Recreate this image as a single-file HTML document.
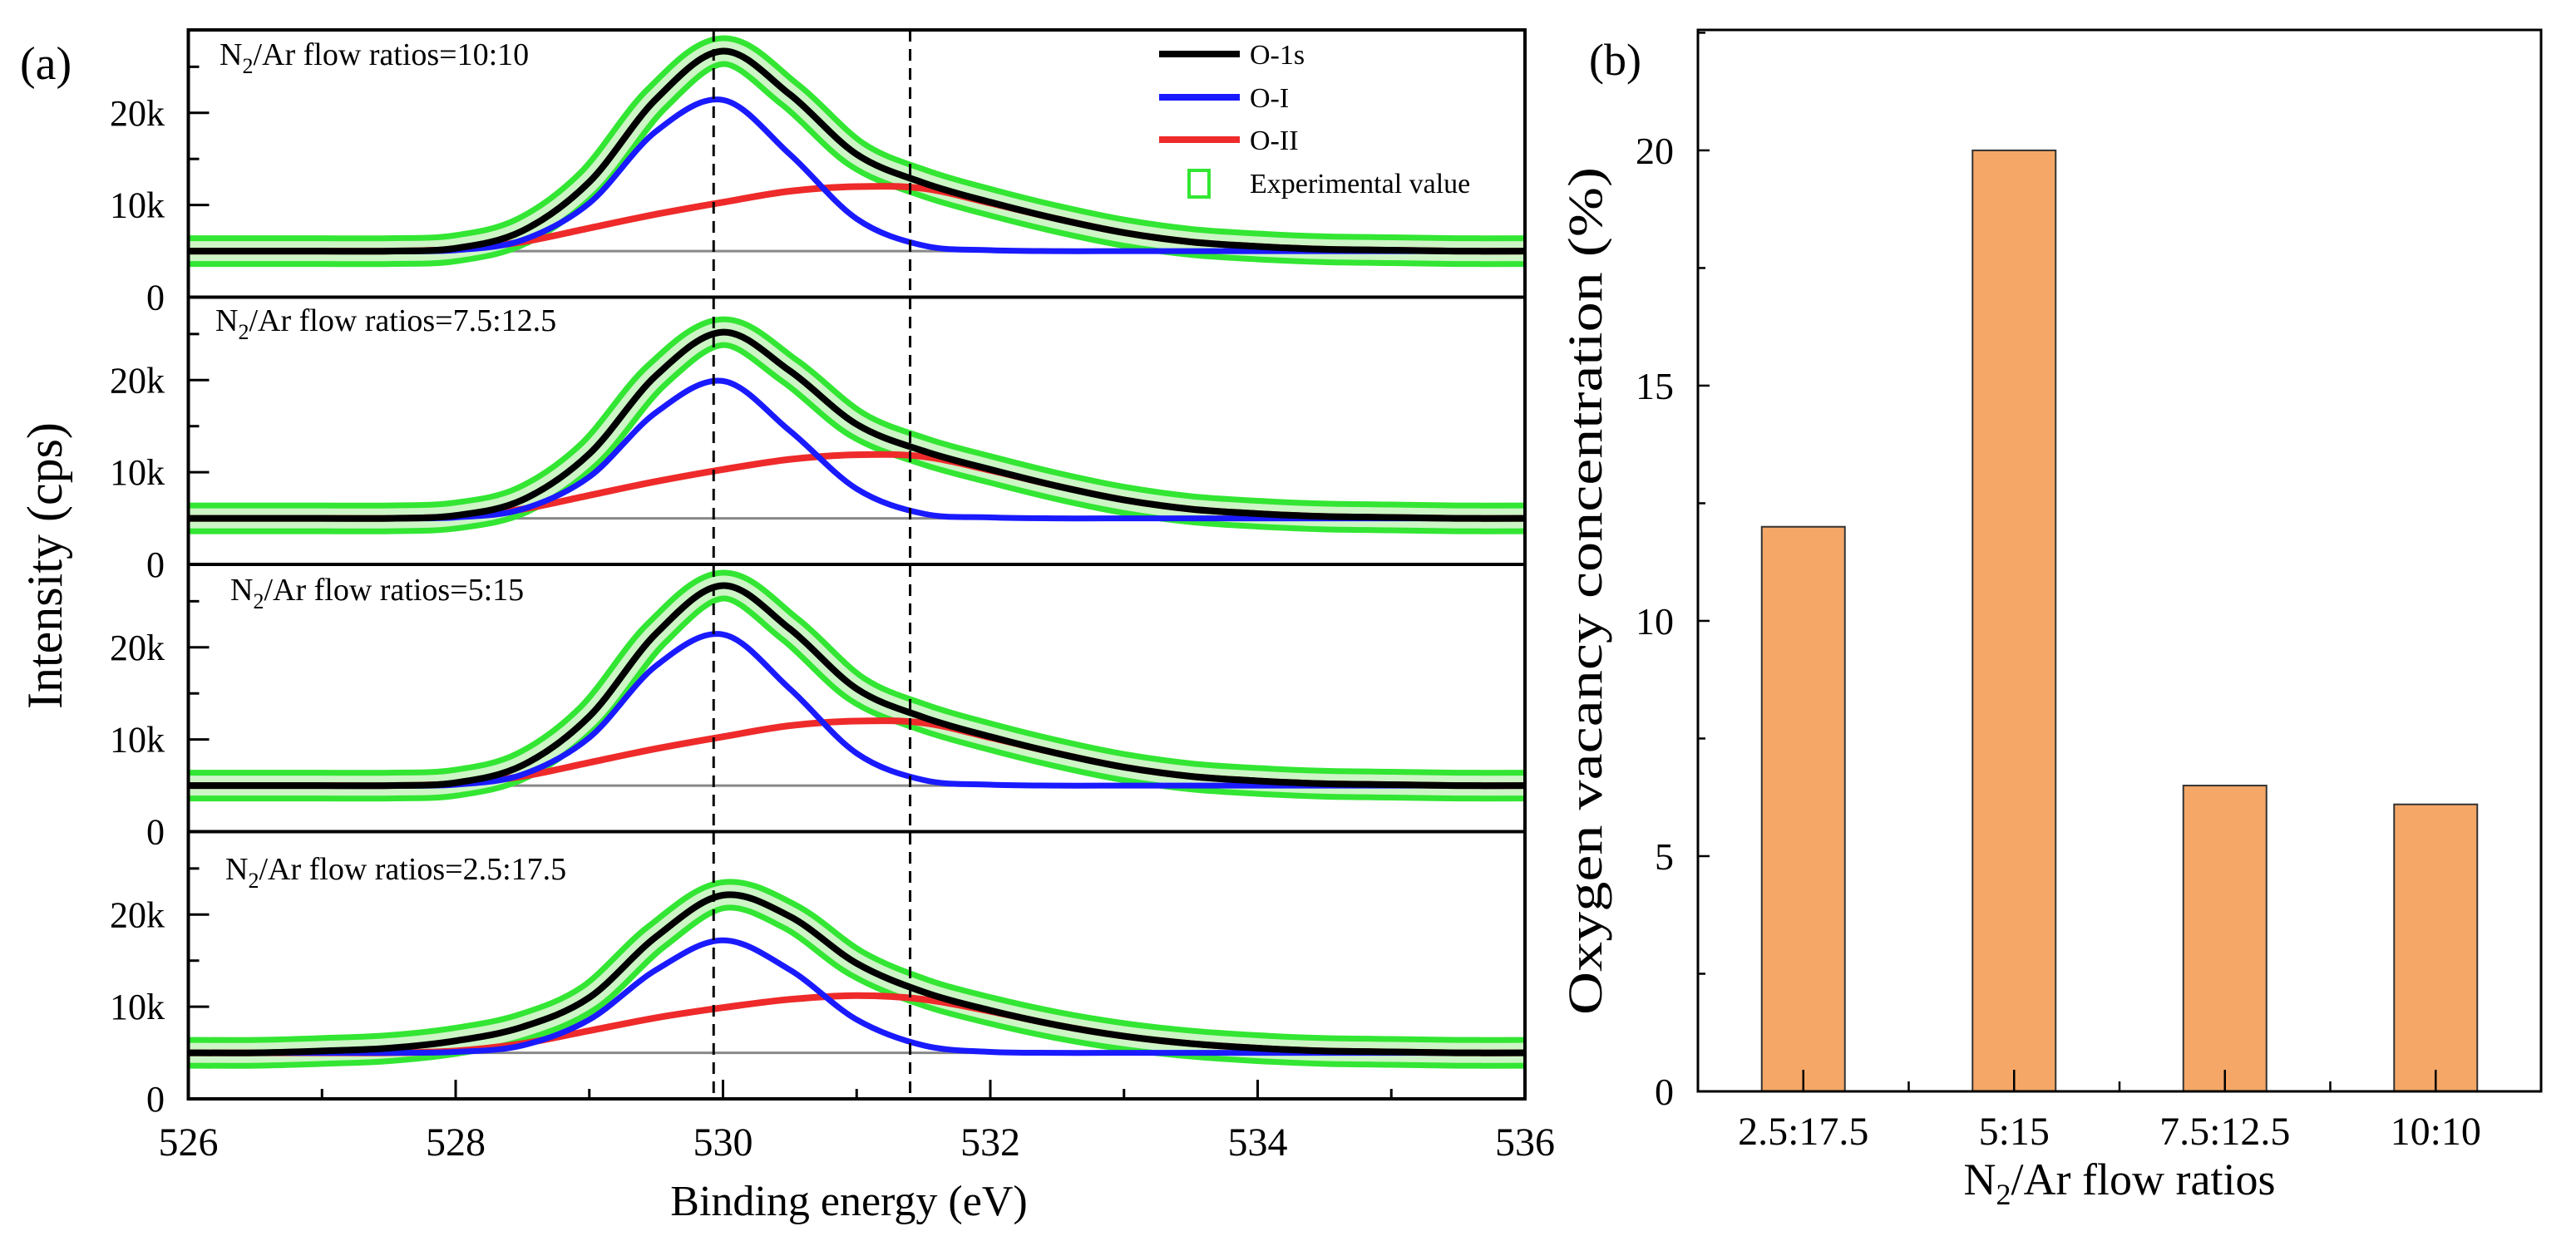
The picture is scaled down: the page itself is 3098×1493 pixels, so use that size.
<!DOCTYPE html>
<html><head><meta charset="utf-8"><style>
html,body{margin:0;padding:0;background:#fff;}
svg{display:block;font-family:"Liberation Serif",serif;}
</style></head><body>
<svg id="fig" width="3098" height="1493" viewBox="0 0 3098 1493" xmlns="http://www.w3.org/2000/svg">
<rect x="0" y="0" width="3098" height="1493" fill="#fff"/>
<g id="pa"></g>
<g id="pb"></g>
</svg>
<script>
// ---------- Panel (a) data ----------
const energies = [526,526.5,527,527.5,528,528.5,529,529.5,530,530.5,531,531.5,532,532.5,533,533.5,534,534.5,535,535.5,536];
const panelLabels = ["10:10","7.5:12.5","5:15","2.5:17.5"];
const o1sValues = [
 [5,5,5,5,5.3,7.2,12.5,21.5,26.7,22,15.5,12.4,10.3,8.5,7,6,5.5,5.2,5.1,5,5],
 [5,5,5,5,5.3,7,12,20.5,25.2,21,15.2,12.3,10.3,8.5,7,6,5.5,5.2,5.1,5,5],
 [5,5,5,5,5.3,7.2,12.5,21.5,26.7,22,15.5,12.4,10.3,8.5,7,6,5.5,5.2,5.1,5,5],
 [5,5,5.2,5.5,6.3,7.8,11,17.6,22.1,19.8,14.7,11.6,9.6,8,6.8,6,5.5,5.2,5.1,5,5]
];
const oIValues = [
 [5,5,5,5,5.1,6.2,10.2,18,21.4,15.5,8.5,5.6,5.1,5,5,5,5,5,5,5,5],
 [5,5,5,5,5.1,6,9.5,16.5,19.9,14.5,8.2,5.5,5.1,5,5,5,5,5,5,5,5],
 [5,5,5,5,5.1,6.2,10.2,18,21.4,15.5,8.5,5.6,5.1,5,5,5,5,5,5,5,5],
 [5,5,5,5,5.1,5.8,8.6,14,17.2,14,8.6,5.8,5.1,5,5,5,5,5,5,5,5]
];
const oIIValues = [
 [5,5,5,5,5.2,6,7.5,9,10.3,11.5,12,11.8,10.2,8.5,7,6,5.5,5.2,5.1,5,5],
 [5,5,5,5,5.2,6,7.5,9,10.3,11.4,11.9,11.7,10.2,8.5,7,6,5.5,5.2,5.1,5,5],
 [5,5,5,5,5.2,6,7.5,9,10.3,11.5,12,11.8,10.2,8.5,7,6,5.5,5.2,5.1,5,5],
 [5,5,5,5,5.2,6,7.4,8.8,9.9,10.8,11.2,10.8,9.5,8,6.8,6,5.5,5.2,5.1,5,5]
];
const baselineValues = [5,5,5,5];
const dashedEnergies = [529.93,531.4];
const xTickValues = [526,528,530,532,534,536];
const yTickValues = [0,10,20];

// ---------- Panel (b) data ----------
const barCategories = ["2.5:17.5","5:15","7.5:12.5","10:10"];
const barValues = [12,20,6.5,6.1];
const barYTicks = [0,5,10,15,20];

const NS="http://www.w3.org/2000/svg";
function mk(tag,attrs,parent){const e=document.createElementNS(NS,tag);for(const k in attrs)e.setAttribute(k,attrs[k]);parent.appendChild(e);return e;}
function smooth(pts){
  let d="M"+pts[0][0].toFixed(1)+","+pts[0][1].toFixed(1);
  for(let i=0;i<pts.length-1;i++){
    const p0=pts[Math.max(0,i-1)],p1=pts[i],p2=pts[i+1],p3=pts[Math.min(pts.length-1,i+2)];
    const c1=[p1[0]+(p2[0]-p0[0])/6,p1[1]+(p2[1]-p0[1])/6];
    const c2=[p2[0]-(p3[0]-p1[0])/6,p2[1]-(p3[1]-p1[1])/6];
    d+=" C"+c1[0].toFixed(1)+","+c1[1].toFixed(1)+" "+c2[0].toFixed(1)+","+c2[1].toFixed(1)+" "+p2[0].toFixed(1)+","+p2[1].toFixed(1);
  }
  return d;
}

// ---------- Panel (a) ----------
const pa=document.getElementById('pa');
const AX0=226.5, AX1=1834, PTOP=36, PH=321.5, YMAX=29;
const xA=v=>AX0+(v-526)*(AX1-AX0)/10;
for(let p=0;p<4;p++){
  const top=PTOP+p*PH, bot=top+PH;
  const yA=v=>bot-v*(PH/YMAX);
  const g=mk('g',{},pa);
  
  
  // baseline
  const bl=mk('line',{x1:xA(526),x2:xA(536),y1:yA(baselineValues[p]),y2:yA(baselineValues[p]),stroke:'#888',"stroke-width":3},g);
  
  
  const o1=energies.map((e,i)=>[xA(e),yA(o1sValues[p][i])]);
  // experimental band
  const ex1=mk('path',{d:smooth(o1),fill:'none',stroke:'#33e633',"stroke-width":38,"stroke-linejoin":'round'},g);
  
  
  const ex2=mk('path',{d:smooth(o1),fill:'none',stroke:'#cdf5c6',"stroke-width":24,"stroke-linejoin":'round'},g);
  
  
  const rII=mk('path',{d:smooth(energies.map((e,i)=>[xA(e),yA(oIIValues[p][i])])),fill:'none',stroke:'#ee2a2a',"stroke-width":8},g);
  
  
  const rI=mk('path',{d:smooth(energies.map((e,i)=>[xA(e),yA(oIValues[p][i])])),fill:'none',stroke:'#1a1aff',"stroke-width":7},g);
  
  
  const r1=mk('path',{d:smooth(o1),fill:'none',stroke:'#000',"stroke-width":8},g);
  
  
  // y ticks
  for(let v=0;v<YMAX;v+=5){
    const major=yTickValues.includes(v);
    const t=mk('line',{x1:AX0,x2:AX0+(major?25:13),y1:yA(v),y2:yA(v),stroke:'#000',"stroke-width":3},g);
    
    
  }
  yTickValues.forEach(v=>{
    const t=mk('text',{x:198,y:yA(v)+15,"text-anchor":'end',"font-size":44},g);
    t.textContent=v===0?'0':v+'k';
    
    
  });
  // panel label
  const lx=[264,259,277,271][p], ly=[78,398,722,1058][p];
  const lb=mk('text',{x:lx,y:ly,"font-size":38},g);
  lb.innerHTML='N<tspan font-size="26" dy="10">2</tspan><tspan dy="-10">/Ar flow ratios='+panelLabels[p]+'</tspan>';
  
  
  // frame
  const fr=mk('rect',{x:AX0,y:top,width:AX1-AX0,height:PH,fill:'none',stroke:'#000',"stroke-width":4},g);
  
  
}
// dashed lines
dashedEnergies.forEach(e=>{
  const l=mk('line',{x1:xA(e),x2:xA(e),y1:PTOP,y2:PTOP+4*PH,stroke:'#000',"stroke-width":3,"stroke-dasharray":'14,9'},pa);
  
  
});
// x ticks
const ABOT=PTOP+4*PH;
for(let v=526;v<=536;v++){
  const major=xTickValues.includes(v);
  const t=mk('line',{x1:xA(v),x2:xA(v),y1:ABOT,y2:ABOT-(major?23:12),stroke:'#000',"stroke-width":3},pa);
  
  
}
xTickValues.forEach(v=>{
  const t=mk('text',{x:xA(v),y:1390,"text-anchor":'middle',"font-size":48},pa);
  t.textContent=String(v);
  
  
});
// legend
const legItems=[['O-1s','#000',65],['O-I','#1a1aff',117],['O-II','#ee2a2a',168]];
legItems.forEach(it=>{
  const l=mk('line',{x1:1394,x2:1491,y1:it[2],y2:it[2],stroke:it[1],"stroke-width":8},pa);
  
  
  const t=mk('text',{x:1503,y:it[2]+12,"font-size":34},pa);
  t.textContent=it[0];
  
  
});
const lm=mk('rect',{x:1430,y:205,width:24,height:32,fill:'none',stroke:'#33e633',"stroke-width":4},pa);


const lt=mk('text',{x:1503,y:232,"font-size":34},pa);
lt.textContent='Experimental value';


// axis titles
const at=mk('text',{x:1021,y:1462,"text-anchor":'middle',"font-size":52},pa);
at.textContent='Binding energy (eV)';


const ay=mk('text',{x:0,y:0,"font-size":60,transform:'translate(74,853) rotate(-90)'},pa);
ay.textContent='Intensity (cps)';


const la=mk('text',{x:24,y:95,"font-size":56},pa);
la.textContent='(a)';



// ---------- Panel (b) ----------
const pb=document.getElementById('pb');
const BX0=2042, BX1=3056, BTOP=36, BBOT=1313, BYMAX=22.56;
const yB=v=>BBOT-v*(BBOT-BTOP)/BYMAX;
const band=(BX1-BX0)/barCategories.length;
const xB=i=>BX0+band*(i+0.5);
barValues.forEach((v,i)=>{
  const r=mk('rect',{x:xB(i)-50,y:yB(v),width:100,height:BBOT-yB(v),fill:'#f4a766',stroke:'#333',"stroke-width":2},pb);
  
  
});
for(let v=0;v<BYMAX;v+=2.5){
  const major=barYTicks.includes(v);
  const t=mk('line',{x1:BX0,x2:BX0+(major?14:9),y1:yB(v),y2:yB(v),stroke:'#000',"stroke-width":2.5},pb);
  
  
}
barYTicks.forEach(v=>{
  const t=mk('text',{x:2013,y:yB(v)+16,"text-anchor":'end',"font-size":46},pb);
  t.textContent=String(v);
  
  
});
barCategories.forEach((c,i)=>{
  const t=mk('line',{x1:xB(i),x2:xB(i),y1:BBOT,y2:BBOT-26,stroke:'#000',"stroke-width":2.5},pb);
  
  
  if(i>0){
    const m=mk('line',{x1:xB(i)-band/2,x2:xB(i)-band/2,y1:BBOT,y2:BBOT-12,stroke:'#000',"stroke-width":2.5},pb);
    
    
  }
  const l=mk('text',{x:xB(i),y:1377,"text-anchor":'middle',"font-size":48},pb);
  l.textContent=c;
  
  
});
const bf=mk('rect',{x:BX0,y:BTOP,width:BX1-BX0,height:BBOT-BTOP,fill:'none',stroke:'#000',"stroke-width":3},pb);


const bxt=mk('text',{x:2549,y:1437,"text-anchor":'middle',"font-size":54},pb);
bxt.innerHTML='N<tspan font-size="36" dy="12">2</tspan><tspan dy="-12">/Ar flow ratios</tspan>';


const byt=mk('text',{x:0,y:0,"text-anchor":'middle',"font-size":58,transform:'translate(1926,711) rotate(-90)',textLength:1020,lengthAdjust:'spacingAndGlyphs'},pb);
byt.textContent='Oxygen vacancy concentration (%)';


const lbb=mk('text',{x:1911,y:90,"font-size":54},pb);
lbb.textContent='(b)';


</script>
</body></html>
